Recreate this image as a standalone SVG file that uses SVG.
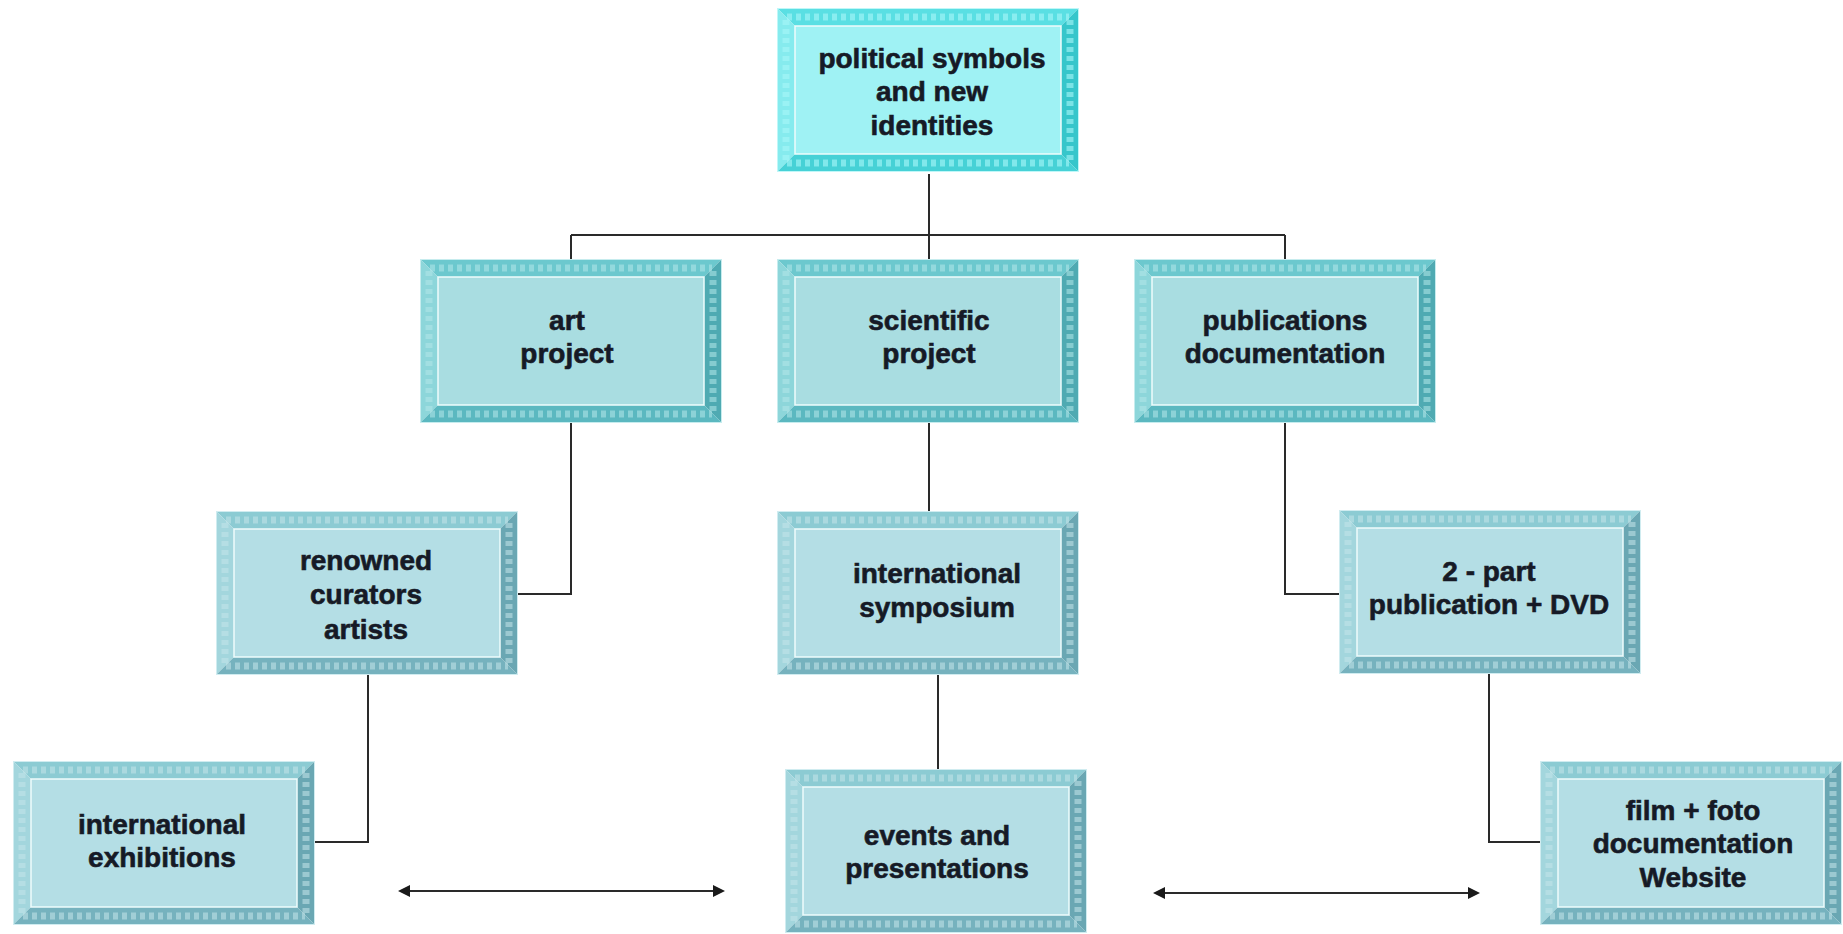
<svg xmlns="http://www.w3.org/2000/svg" xmlns:xlink="http://www.w3.org/1999/xlink" width="1843" height="934" viewBox="0 0 1843 934">
<style>
.lbl{font-family:"Liberation Sans",Arial,sans-serif;font-weight:bold;font-size:28px;fill:#161a26;stroke:#161a26;stroke-width:0.6;text-anchor:middle}
.con{fill:none;stroke:#2a2a2a;stroke-width:2}
.tex{fill:none;stroke-width:7;stroke-dasharray:5 4}
.hl{fill:none;stroke:#eefcfc;stroke-width:1.5}
</style>
<defs>
<marker id="ah" viewBox="0 0 12 12" refX="10" refY="6" markerWidth="12" markerHeight="12" markerUnits="userSpaceOnUse" orient="auto-start-reverse">
<path d="M0,0 L12,6 L0,12 z" fill="#1a1a1a"/>
</marker>
<g id="bevTop">
<polygon points="0,0 302,0 284,18 18,18" fill="#5adfe3"/>
<polygon points="0,0 18,18 18,146 0,164" fill="#86ebee"/>
<polygon points="302,0 302,164 284,146 284,18" fill="#36c6cb"/>
<polygon points="0,164 18,146 284,146 302,164" fill="#46d1d6"/>
<path class="tex" d="M10,9 H292 M9,12 V152 M293,12 V152 M10,155 H292" stroke="#a8f6f8" stroke-opacity="0.6"/>
<rect x="18" y="18" width="266" height="128" fill="#9ff2f4"/>
<rect class="hl" x="18" y="18" width="266" height="128"/>
<rect x="0.5" y="0.5" width="301" height="163" fill="none" stroke="#bff7f8" stroke-width="1"/>
</g>
<g id="bevMid">
<polygon points="0,0 302,0 284,18 18,18" fill="#6cc8ce"/>
<polygon points="0,0 18,18 18,146 0,164" fill="#8dd6da"/>
<polygon points="302,0 302,164 284,146 284,18" fill="#4faab2"/>
<polygon points="0,164 18,146 284,146 302,164" fill="#5bb8c0"/>
<path class="tex" d="M10,9 H292 M9,12 V152 M293,12 V152 M10,155 H292" stroke="#b4e8ea" stroke-opacity="0.55"/>
<rect x="18" y="18" width="266" height="128" fill="#a9dde1"/>
<rect class="hl" x="18" y="18" width="266" height="128"/>
<rect x="0.5" y="0.5" width="301" height="163" fill="none" stroke="#c6ecee" stroke-width="1"/>
</g>
<g id="bevLow">
<polygon points="0,0 302,0 284,18 18,18" fill="#8ccbd3"/>
<polygon points="0,0 18,18 18,146 0,164" fill="#a3d6dd"/>
<polygon points="302,0 302,164 284,146 284,18" fill="#6aa7b3"/>
<polygon points="0,164 18,146 284,146 302,164" fill="#76b2be"/>
<path class="tex" d="M10,9 H292 M9,12 V152 M293,12 V152 M10,155 H292" stroke="#c4e6ea" stroke-opacity="0.55"/>
<rect x="18" y="18" width="266" height="128" fill="#b4dee5"/>
<rect class="hl" x="18" y="18" width="266" height="128"/>
<rect x="0.5" y="0.5" width="301" height="163" fill="none" stroke="#d0ecf0" stroke-width="1"/>
</g>
</defs>
<rect width="1843" height="934" fill="#ffffff"/>
<g id="connectors">
<path class="con" d="M929,174 V235 M571,235 H1285 M571,235 V259 M929,235 V259 M1285,235 V259"/>
<path class="con" d="M571,423 V594 H518"/>
<path class="con" d="M929,423 V511"/>
<path class="con" d="M1285,423 V594 H1339"/>
<path class="con" d="M368,675 V842 H315"/>
<path class="con" d="M938,675 V769"/>
<path class="con" d="M1489,674 V842 H1540"/>
<line class="con" x1="400" y1="891" x2="723" y2="891" marker-start="url(#ah)" marker-end="url(#ah)"/>
<line class="con" x1="1155" y1="893" x2="1478" y2="893" marker-start="url(#ah)" marker-end="url(#ah)"/>
</g>
<g id="node-top">
<use xlink:href="#bevTop" x="777" y="8"/>
<text class="lbl" x="932" y="68">political symbols</text>
<text class="lbl" x="932" y="101">and new</text>
<text class="lbl" x="932" y="135">identities</text>
</g>
<g id="node-art">
<use xlink:href="#bevMid" x="420" y="259"/>
<text class="lbl" x="567" y="330">art</text>
<text class="lbl" x="567" y="363">project</text>
</g>
<g id="node-scientific">
<use xlink:href="#bevMid" x="777" y="259"/>
<text class="lbl" x="929" y="330">scientific</text>
<text class="lbl" x="929" y="363">project</text>
</g>
<g id="node-publications">
<use xlink:href="#bevMid" x="1134" y="259"/>
<text class="lbl" x="1285" y="330">publications</text>
<text class="lbl" x="1285" y="363">documentation</text>
</g>
<g id="node-renowned">
<use xlink:href="#bevLow" x="216" y="511"/>
<text class="lbl" x="366" y="570">renowned</text>
<text class="lbl" x="366" y="604">curators</text>
<text class="lbl" x="366" y="639">artists</text>
</g>
<g id="node-symposium">
<use xlink:href="#bevLow" x="777" y="511"/>
<text class="lbl" x="937" y="583">international</text>
<text class="lbl" x="937" y="617">symposium</text>
</g>
<g id="node-twopart">
<use xlink:href="#bevLow" x="1339" y="510"/>
<text class="lbl" x="1489" y="581">2 - part</text>
<text class="lbl" x="1489" y="614">publication + DVD</text>
</g>
<g id="node-exhibitions">
<use xlink:href="#bevLow" x="13" y="761"/>
<text class="lbl" x="162" y="834">international</text>
<text class="lbl" x="162" y="867">exhibitions</text>
</g>
<g id="node-events">
<use xlink:href="#bevLow" x="785" y="769"/>
<text class="lbl" x="937" y="845">events and</text>
<text class="lbl" x="937" y="878">presentations</text>
</g>
<g id="node-film">
<use xlink:href="#bevLow" x="1540" y="761"/>
<text class="lbl" x="1693" y="820">film + foto</text>
<text class="lbl" x="1693" y="853">documentation</text>
<text class="lbl" x="1693" y="887">Website</text>
</g>
</svg>
